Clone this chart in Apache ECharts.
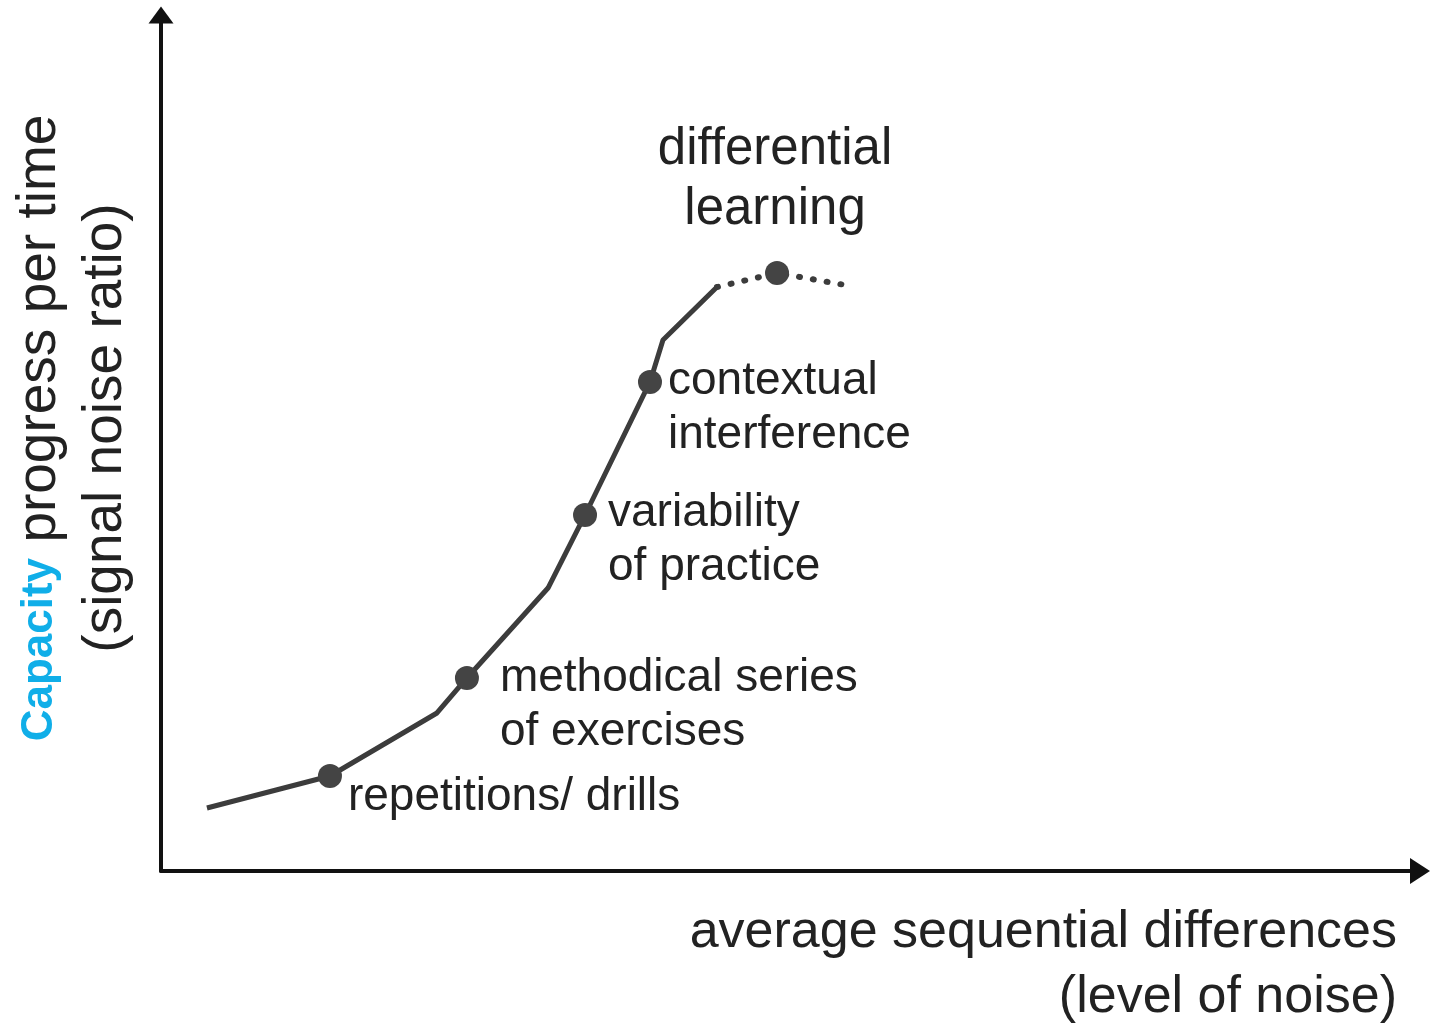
<!DOCTYPE html>
<html>
<head>
<meta charset="utf-8">
<script src="https://cdn.jsdelivr.net/npm/echarts@6/dist/echarts.min.js"></script>
<style>
  html, body { margin: 0; padding: 0; background: #fff; }
  #chart { width: 1445px; height: 1027px; }
</style>
</head>
<body>
<div id="chart"></div>
<script>
// curve (solid part) in axis units 0-100
var curveX = [3.65, 13.42, 21.92, 24.30, 30.74, 33.68, 38.84, 39.87, 44.16];
var curveY = [7.36, 11.10, 18.46, 22.55, 33.06, 41.59, 57.13, 62.03, 68.22];
// dotted continuation
var dottedX = [44.16, 48.93, 54.33];
var dottedY = [68.22, 69.86, 68.46];
// stages marked with a dot
var stageNames = ['repetitions/ drills', 'methodical series\nof exercises', 'variability\nof practice', 'contextual\ninterference', 'differential\nlearning'];
var stageX = [13.42, 24.30, 33.68, 38.84, 48.93];
var stageY = [11.10, 22.55, 41.59, 57.13, 69.86];

// label placement for each stage (styling only)
var labelPlace = [
  { position: 'right', distance: 6, offset: [0, 21] },
  { position: 'right', distance: 21, offset: [0, 27] },
  { position: 'right', distance: 11, offset: [0, 25] },
  { position: 'right', distance: 6, offset: [0, 26] },
  { position: 'top', distance: 21, offset: [-2, 0], fontSize: 51, lineHeight: 60, align: 'center' }
];

var font = 'Liberation Sans, Arial, sans-serif';
var chart = echarts.init(document.getElementById('chart'));

var solidData = curveX.map(function (x, i) { return [x, curveY[i]]; });
var dottedData = dottedX.map(function (x, i) { return [x, dottedY[i]]; });
var stageData = stageX.map(function (x, i) {
  var p = labelPlace[i];
  return {
    value: [x, stageY[i]],
    name: stageNames[i],
    label: {
      position: p.position,
      distance: p.distance,
      offset: p.offset,
      fontSize: p.fontSize || 46,
      lineHeight: p.lineHeight || 54,
      align: p.align || 'left'
    }
  };
});

var axisCommon = {
  type: 'value',
  min: 0,
  max: 100,
  axisTick: { show: false },
  axisLabel: { show: false },
  splitLine: { show: false }
};

chart.setOption({
  backgroundColor: '#fff',
  animation: false,
  grid: { left: 161, right: 25, top: 15, bottom: 156 },
  xAxis: Object.assign({}, axisCommon, {
    axisLine: {
      show: true,
      symbol: ['none', 'triangle'],
      symbolSize: [26, 20],
      lineStyle: { color: '#111', width: 4 }
    }
  }),
  yAxis: Object.assign({}, axisCommon, {
    axisLine: {
      show: true,
      symbol: ['none', 'triangle'],
      symbolSize: [25, 17],
      lineStyle: { color: '#111', width: 4 }
    }
  }),
  series: [{
    type: 'line',
    data: solidData,
    showSymbol: false,
    lineStyle: { color: '#3c3c3c', width: 5 },
    z: 2
  }, {
    type: 'line',
    data: dottedData,
    showSymbol: false,
    lineStyle: { color: '#3c3c3c', width: 6, type: [1, 13], cap: 'round' },
    z: 2
  }, {
    type: 'scatter',
    data: stageData,
    symbolSize: 24,
    itemStyle: { color: '#444', opacity: 1 },
    label: {
      show: true,
      formatter: '{b}',
      color: '#222',
      fontFamily: font
    },
    z: 3
  }],
  graphic: [{
    type: 'text',
    x: 73,
    y: 428,
    rotation: Math.PI / 2,
    style: {
      text: '{cap|Capacity} progress per time\n(signal noise ratio)',
      font: '55px ' + font,
      fill: '#222',
      align: 'center',
      verticalAlign: 'middle',
      lineHeight: 66,
      rich: {
        cap: {
          fontFamily: font,
          fontWeight: 'bold',
          fontSize: 44,
          fill: '#10aee8',
          color: '#10aee8',
          lineHeight: 66
        }
      }
    }
  }, {
    type: 'text',
    x: 1397,
    y: 965,
    style: {
      text: 'average sequential differences\n(level of noise)',
      font: '52px ' + font,
      fill: '#222',
      align: 'right',
      verticalAlign: 'middle',
      lineHeight: 65
    }
  }]
});
</script>
</body>
</html>
